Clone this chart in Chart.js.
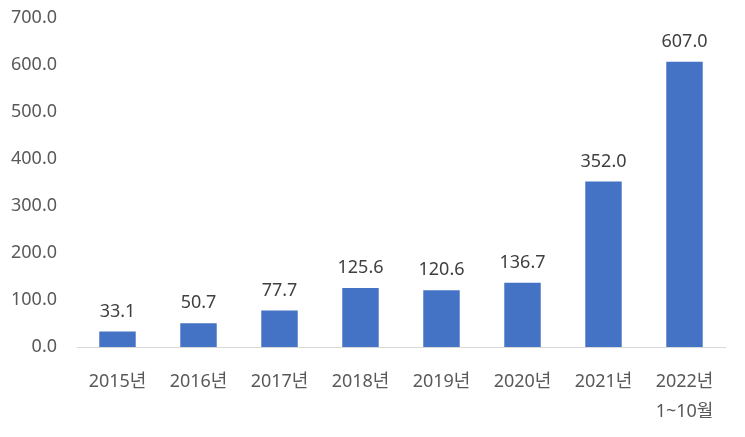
<!DOCTYPE html>
<html lang="ko">
<head>
    <meta charset="UTF-8">
    <title>연도별 추이</title>
    <style>
        body { margin: 0; background: #ffffff; }
        .container { width: 745px; height: 437px; }
    </style>
</head>
<body>
    <div class="container">
        <canvas id="myChart" width="745" height="437"></canvas>
    </div>
    <script src="https://cdn.jsdelivr.net/npm/chart.js"></script>
    <script>
        // 카테고리와 값
        const years = [['2015년'], ['2016년'], ['2017년'], ['2018년'], ['2019년'], ['2020년'], ['2021년'], ['2022년', '1~10월']];
        const values = [33.1, 50.7, 77.7, 125.6, 120.6, 136.7, 352.0, 607.0];
        const yTicks = [0, 100, 200, 300, 400, 500, 600, 700];

        const fontFamily = "'Noto Sans', 'Noto Sans CJK KR', sans-serif";

        // 막대 위 값 표시
        const valueLabels = {
            id: 'valueLabels',
            afterDatasetsDraw(chart) {
                const ctx = chart.ctx;
                const meta = chart.getDatasetMeta(0);
                ctx.save();
                ctx.font = '18px ' + fontFamily;
                ctx.fillStyle = '#404040';
                ctx.textAlign = 'center';
                ctx.textBaseline = 'middle';
                meta.data.forEach((bar, i) => {
                    ctx.fillText(values[i].toFixed(1), bar.x, bar.y - 20);
                });
                ctx.restore();
            }
        };

        const ctx = document.getElementById('myChart').getContext('2d');

        new Chart(ctx, {
            type: 'bar',
            data: {
                labels: years,
                datasets: [{
                    data: values,
                    backgroundColor: '#4472C4',
                    categoryPercentage: 1.0,
                    barPercentage: 0.45
                }]
            },
            options: {
                responsive: false,
                animation: false,
                layout: { padding: { top: 18, right: 20, left: 0, bottom: 0 } },
                plugins: {
                    legend: { display: false },
                    tooltip: { enabled: false }
                },
                scales: {
                    x: {
                        grid: { display: false },
                        border: { color: '#d9d9d9', width: 1 },
                        ticks: {
                            color: '#595959',
                            padding: 12,
                            maxRotation: 0,
                            font: { family: fontFamily, size: 18, lineHeight: 1.65 }
                        },
                        afterFit(scale) { scale.height = 90; }
                    },
                    y: {
                        min: 0,
                        max: 700,
                        grid: { display: false, tickLength: 20 },
                        border: { display: false },
                        afterBuildTicks(scale) {
                            scale.ticks = yTicks.map(v => ({ value: v }));
                        },
                        ticks: {
                            color: '#595959',
                            padding: 0,
                            font: { family: fontFamily, size: 18 },
                            callback: v => Number(v).toFixed(1)
                        },
                        afterFit(scale) { scale.width = 77; }
                    }
                }
            },
            plugins: [valueLabels]
        });
    </script>
</body>
</html>
